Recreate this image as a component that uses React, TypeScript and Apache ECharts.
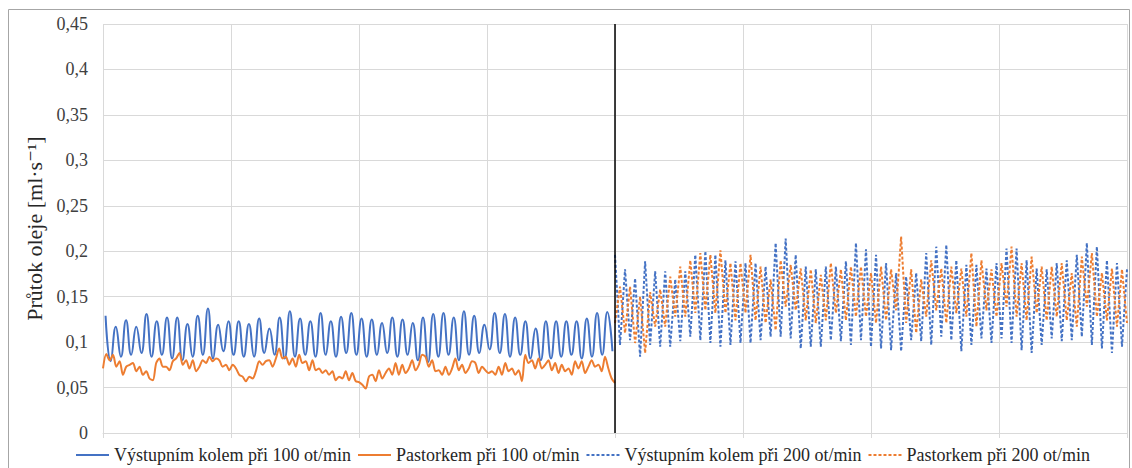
import React, { useEffect, useRef } from "react";
import * as echarts from "echarts";

const NAME_B100 = "Výstupním kolem při 100 ot/min";
const NAME_O100 = "Pastorkem při 100 ot/min";
const NAME_B200 = "Výstupním kolem při 200 ot/min";
const NAME_O200 = "Pastorkem při 200 ot/min";

const Y_TICKS = [0, 0.05, 0.1, 0.15, 0.2, 0.25, 0.3, 0.35, 0.4, 0.45];
const X_MIN = 0;
const X_SPLIT = 4;
const X_MAX = 8;

// 100 ot/min, output wheel: alternating peak / trough samples
const LEFT_BLUE = [
  0.129, 0.079, 0.117, 0.084, 0.124, 0.086, 0.117, 0.088, 0.131, 0.084,
  0.123, 0.086, 0.127, 0.082, 0.127, 0.080, 0.120, 0.084, 0.129, 0.086,
  0.137, 0.082, 0.119, 0.090, 0.123, 0.086, 0.123, 0.084, 0.120, 0.084,
  0.126, 0.088, 0.115, 0.086, 0.127, 0.082, 0.134, 0.084, 0.126, 0.086,
  0.123, 0.084, 0.132, 0.086, 0.123, 0.084, 0.128, 0.088, 0.132, 0.086,
  0.126, 0.084, 0.125, 0.086, 0.121, 0.088, 0.127, 0.084, 0.125, 0.086,
  0.121, 0.080, 0.127, 0.078, 0.131, 0.084, 0.132, 0.086, 0.127, 0.080,
  0.134, 0.086, 0.129, 0.088, 0.119, 0.092, 0.132, 0.088, 0.131, 0.084,
  0.127, 0.086, 0.123, 0.082, 0.115, 0.080, 0.123, 0.082, 0.123, 0.084,
  0.123, 0.086, 0.123, 0.082, 0.126, 0.084, 0.132, 0.086, 0.133, 0.090,
];
const LEFT_BLUE_X0 = 0.02;
const LEFT_BLUE_DT = 0.04;

// 100 ot/min, pinion
const LEFT_ORANGE = [
  0.071, 0.087, 0.080, 0.086, 0.073, 0.079, 0.064, 0.073, 0.075, 0.077,
  0.068, 0.073, 0.064, 0.068, 0.060, 0.058, 0.077, 0.082, 0.073, 0.073,
  0.069, 0.079, 0.082, 0.088, 0.075, 0.080, 0.071, 0.080, 0.068, 0.073,
  0.080, 0.077, 0.084, 0.079, 0.082, 0.080, 0.073, 0.075, 0.069, 0.075,
  0.071, 0.064, 0.062, 0.057, 0.062, 0.060, 0.068, 0.079, 0.075, 0.079,
  0.080, 0.073, 0.082, 0.093, 0.082, 0.084, 0.075, 0.082, 0.073, 0.086,
  0.077, 0.079, 0.069, 0.080, 0.069, 0.071, 0.066, 0.069, 0.064, 0.068,
  0.058, 0.062, 0.060, 0.068, 0.058, 0.066, 0.057,
  0.056, 0.053, 0.049, 0.062, 0.064, 0.057, 0.069, 0.060, 0.066, 0.071,
  0.064, 0.077, 0.064, 0.075, 0.066, 0.071, 0.080, 0.069, 0.075, 0.086,
  0.084, 0.073, 0.080, 0.068, 0.069, 0.064, 0.073, 0.064, 0.071, 0.082,
  0.069, 0.075, 0.066, 0.071, 0.079, 0.077, 0.066, 0.073, 0.069, 0.066,
  0.068, 0.064, 0.073, 0.064, 0.077, 0.068, 0.071, 0.064, 0.069, 0.057,
  0.086, 0.077, 0.080, 0.071, 0.082, 0.071, 0.075, 0.080, 0.069, 0.077,
  0.066, 0.075, 0.068, 0.071, 0.064, 0.079, 0.071, 0.079, 0.066, 0.073,
  0.080, 0.073, 0.075, 0.068, 0.084, 0.071, 0.060, 0.055,
];

// 200 ot/min, output wheel
const RIGHT_BLUE = [
  0.196, 0.097, 0.180, 0.102, 0.170, 0.084, 0.189, 0.097, 0.178, 0.095,
  0.178, 0.095, 0.169, 0.101, 0.178, 0.106, 0.196, 0.102, 0.200, 0.099,
  0.196, 0.095, 0.190, 0.097, 0.189, 0.099,
  0.187, 0.099, 0.187, 0.102, 0.183, 0.106, 0.209, 0.106, 0.214, 0.104,
  0.196, 0.093, 0.183, 0.095, 0.180, 0.095, 0.183, 0.102, 0.183, 0.101,
  0.189, 0.097, 0.209, 0.102, 0.202, 0.095,
  0.196, 0.093, 0.187, 0.091, 0.176, 0.090, 0.172, 0.102, 0.176, 0.101,
  0.198, 0.097, 0.205, 0.106, 0.207, 0.102, 0.190, 0.090, 0.185, 0.097,
  0.185, 0.104, 0.181, 0.099, 0.187,
  0.104, 0.203, 0.099, 0.203, 0.091, 0.190, 0.088, 0.181, 0.097, 0.180,
  0.104, 0.187, 0.101, 0.190, 0.102, 0.196, 0.106, 0.209, 0.097, 0.205,
  0.093, 0.190, 0.088, 0.187, 0.095, 0.180,
];

// 200 ot/min, pinion
const RIGHT_ORANGE = [
  0.121, 0.161, 0.110, 0.161, 0.099, 0.150, 0.088, 0.155, 0.117, 0.158,
  0.117, 0.172, 0.128, 0.183, 0.128, 0.190, 0.132, 0.198, 0.135, 0.196,
  0.132, 0.201, 0.132, 0.187, 0.124, 0.187,
  0.132, 0.196, 0.124, 0.183, 0.121, 0.169, 0.113, 0.190, 0.139, 0.185,
  0.135, 0.181, 0.124, 0.180, 0.121, 0.174, 0.124, 0.187, 0.132, 0.180,
  0.124, 0.183, 0.128, 0.183, 0.128, 0.176,
  0.121, 0.183, 0.124, 0.180, 0.135, 0.216, 0.121, 0.180, 0.110, 0.169,
  0.128, 0.190, 0.135, 0.181, 0.121, 0.183, 0.132, 0.181, 0.128, 0.198,
  0.117, 0.190, 0.135, 0.180, 0.128,
  0.187, 0.139, 0.205, 0.128, 0.187, 0.124, 0.194, 0.132, 0.183, 0.124,
  0.183, 0.128, 0.187, 0.124, 0.176, 0.117, 0.194, 0.139, 0.198, 0.128,
  0.176, 0.124, 0.181, 0.117, 0.180, 0.121,
];

const BLUE = "#4472C4";
const ORANGE = "#ED7D31";
const GRID = "#d9d9d9";
const FONT = "Times New Roman, Liberation Serif, DejaVu Serif, serif";

function withX(values: number[], x0: number, dt: number): number[][] {
  return values.map((v, i) => [x0 + i * dt, v]);
}
function spread(values: number[], from: number, to: number): number[][] {
  const dt = (to - from) / (values.length - 1);
  return values.map((v, i) => [from + i * dt, v]);
}

export default function App() {
  const ref = useRef<HTMLDivElement>(null);
  useEffect(() => {
    if (!ref.current) return;
    const chart = echarts.init(ref.current, null, { renderer: "svg" });
    const fmt = (v: number) => {
      const t = Y_TICKS.find((x) => Math.abs(x - v) < 1e-9);
      const val = t !== undefined ? t : v;
      return String(parseFloat(val.toFixed(2))).replace(".", ",");
    };
    const txt = (size: number, color: string) => ({
      fontFamily: FONT,
      fontSize: size,
      color,
    });
    chart.setOption({
      animation: false,
      backgroundColor: "#fff",
      textStyle: { fontFamily: FONT },
      graphic: [
        {
          type: "rect",
          shape: { x: 8.5, y: 9.5, width: 1121, height: 480 },
          style: { fill: "none", stroke: "#a6a6a6", lineWidth: 1 },
          silent: true,
          z: -1,
        },
      ],
      grid: { left: 103, right: 5, top: 24, bottom: 35 },
      legend: {
        left: 70,
        top: 441,
        itemWidth: 33,
        itemHeight: 14,
        itemGap: 6,
        itemStyle: { opacity: 0 },
        textStyle: txt(18, "#262626"),
        data: [NAME_B100, NAME_O100, NAME_B200, NAME_O200],
      },
      xAxis: {
        type: "value",
        min: X_MIN,
        max: X_MAX,
        interval: 1,
        axisLabel: { show: false },
        axisTick: { show: true, length: 5, lineStyle: { color: GRID } },
        axisLine: { show: true, lineStyle: { color: GRID } },
        splitLine: { show: true, lineStyle: { color: GRID, width: 1 } },
      },
      yAxis: {
        type: "value",
        min: 0,
        max: 0.45,
        interval: 0.05,
        name: "Průtok oleje [ml·s⁻¹]",
        nameLocation: "middle",
        nameRotate: 90,
        nameGap: 56,
        nameTextStyle: txt(22, "#262626"),
        axisLine: { show: false },
        axisTick: { show: false },
        axisLabel: {
          formatter: fmt,
          ...txt(18, "#404040"),
          margin: 15,
        },
        splitLine: { show: true, lineStyle: { color: GRID, width: 1 } },
      },
      series: [
        {
          name: NAME_B100,
          type: "line",
          data: withX(LEFT_BLUE, LEFT_BLUE_X0, LEFT_BLUE_DT),
          symbol: "none",
          smooth: 0.5,
          lineStyle: { color: BLUE, width: 2 },
          itemStyle: { color: BLUE },
          markLine: {
            silent: true,
            symbol: "none",
            label: { show: false },
            lineStyle: { color: "#000", width: 1.5, type: "solid" },
            data: [{ xAxis: X_SPLIT }],
          },
        },
        {
          name: NAME_O100,
          type: "line",
          data: spread(LEFT_ORANGE, X_MIN, X_SPLIT),
          symbol: "none",
          smooth: 0.3,
          lineStyle: { color: ORANGE, width: 2 },
          itemStyle: { color: ORANGE },
        },
        {
          name: NAME_B200,
          type: "line",
          data: spread(RIGHT_BLUE, X_SPLIT, X_MAX),
          symbol: "none",
          lineStyle: { color: BLUE, width: 2, type: [3, 2] },
          itemStyle: { color: BLUE },
        },
        {
          name: NAME_O200,
          type: "line",
          data: spread(RIGHT_ORANGE, X_SPLIT, X_MAX),
          symbol: "none",
          lineStyle: { color: ORANGE, width: 2, type: [3, 2] },
          itemStyle: { color: ORANGE },
        },
      ],
    });
    return () => chart.dispose();
  }, []);
  return (
    <div
      ref={ref}
      style={{ position: "fixed", left: 0, top: 0, width: 1132, height: 468 }}
    />
  );
}
